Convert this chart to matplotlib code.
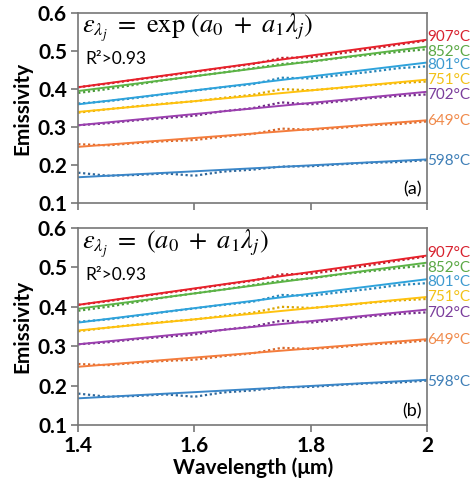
import matplotlib
matplotlib.use('Agg')
import matplotlib.pyplot as plt
import numpy as np

plt.rcParams['font.family'] = ['Lato', 'DejaVu Sans']
plt.rcParams['mathtext.fontset'] = 'stix'

# measured wavelengths (um)
wl = [1.40, 1.45, 1.50, 1.55, 1.60, 1.65, 1.70, 1.75, 1.80, 1.85, 1.90, 1.95, 2.00]

temps = ['907°C', '852°C', '801°C', '751°C', '702°C', '649°C', '598°C']

# measured emissivity (dotted)
meas_907 = [0.405, 0.414, 0.425, 0.435, 0.445, 0.456, 0.466, 0.482, 0.484, 0.494, 0.505, 0.517, 0.528]
meas_852 = [0.390, 0.400, 0.412, 0.424, 0.434, 0.444, 0.455, 0.466, 0.472, 0.482, 0.490, 0.498, 0.505]
meas_801 = [0.362, 0.368, 0.377, 0.387, 0.396, 0.405, 0.413, 0.430, 0.428, 0.437, 0.445, 0.455, 0.460]
meas_751 = [0.338, 0.347, 0.355, 0.362, 0.368, 0.377, 0.385, 0.400, 0.397, 0.403, 0.410, 0.416, 0.420]
meas_702 = [0.305, 0.310, 0.318, 0.324, 0.330, 0.342, 0.350, 0.365, 0.360, 0.368, 0.376, 0.382, 0.386]
meas_649 = [0.255, 0.252, 0.258, 0.263, 0.266, 0.275, 0.282, 0.296, 0.293, 0.298, 0.305, 0.308, 0.315]
meas_598 = [0.180, 0.172, 0.174, 0.178, 0.172, 0.183, 0.188, 0.196, 0.197, 0.202, 0.206, 0.208, 0.213]
measured = [meas_907, meas_852, meas_801, meas_751, meas_702, meas_649, meas_598]

# fitted lines (solid), value at 1.4 and 2.0 um
fit_wl = [1.4, 2.0]
fit_start = [0.405, 0.395, 0.360, 0.340, 0.305, 0.248, 0.168]
fit_end = [0.530, 0.512, 0.470, 0.425, 0.393, 0.318, 0.215]

# label heights at right side
label_y = [0.536, 0.499, 0.464, 0.424, 0.384, 0.315, 0.210]

line_colors = ['#e8212b', '#5cb446', '#2ea3dc', '#ffc20e', '#9b3faf', '#f47c3c', '#3a86c8']
dot_colors = ['#b81d2a', '#4a9a3a', '#2a86b8', '#d9a500', '#6f2d84', '#d8672a', '#2f679a']
label_colors = ['#d8222f', '#5ba845', '#3d9ad0', '#f2c218', '#7b3e9c', '#f08a4b', '#3f7fb7']

titles = [r'$\varepsilon_{\lambda_j}\ =\ \mathrm{exp}\ (a_0\ +\ a_1\lambda_j)$',
          r'$\varepsilon_{\lambda_j}\ =\ (a_0\ +\ a_1\lambda_j)$']
tags = ['(a)', '(b)']

fig = plt.figure(figsize=(4.74, 4.87), dpi=100)
ax_a = fig.add_axes([0.165, 0.583, 0.736, 0.390])
ax_b = fig.add_axes([0.165, 0.127, 0.736, 0.405])

for k, ax in enumerate([ax_a, ax_b]):
    for i in range(len(temps)):
        ax.plot(wl, measured[i], linestyle=(0, (1, 1.2)), color=dot_colors[i], lw=1.6)
        ax.plot(fit_wl, [fit_start[i], fit_end[i]], color=line_colors[i], lw=1.4)
        ax.text(2.0, label_y[i], temps[i], color=label_colors[i], fontsize=11,
                va='center', ha='left', clip_on=False)
    ax.set_xlim(1.4, 2.0)
    ax.set_ylim(0.1, 0.6)
    ax.set_xticks([1.4, 1.6, 1.8, 2.0])
    ax.set_yticks([0.1, 0.2, 0.3, 0.4, 0.5, 0.6])
    ax.set_yticklabels(['0.1', '0.2', '0.3', '0.4', '0.5', '0.6'], fontsize=15, fontweight='bold')
    for s in ax.spines.values():
        s.set_color('#777777')
        s.set_linewidth(1.2)
    ax.tick_params(direction='out', length=5, width=1.2, color='#777777', pad=3)
    ax.set_ylabel('Emissivity', fontsize=15, fontweight='bold', labelpad=4)
    ax.text(0.012, 0.92, titles[k], transform=ax.transAxes, fontsize=19, va='center')
    ax.text(0.02, 0.76, 'R²>0.93', transform=ax.transAxes, fontsize=12.5, va='center')
    ax.text(0.985, 0.07, tags[k], transform=ax.transAxes, fontsize=13, ha='right', va='center')

ax_a.set_xticklabels([])
ax_b.set_xticklabels(['1.4', '1.6', '1.8', '2'], fontsize=15, fontweight='bold')
ax_b.set_xlabel('Wavelength (μm)', fontsize=15, fontweight='bold', labelpad=1)

fig.savefig('out.png', dpi=100)
